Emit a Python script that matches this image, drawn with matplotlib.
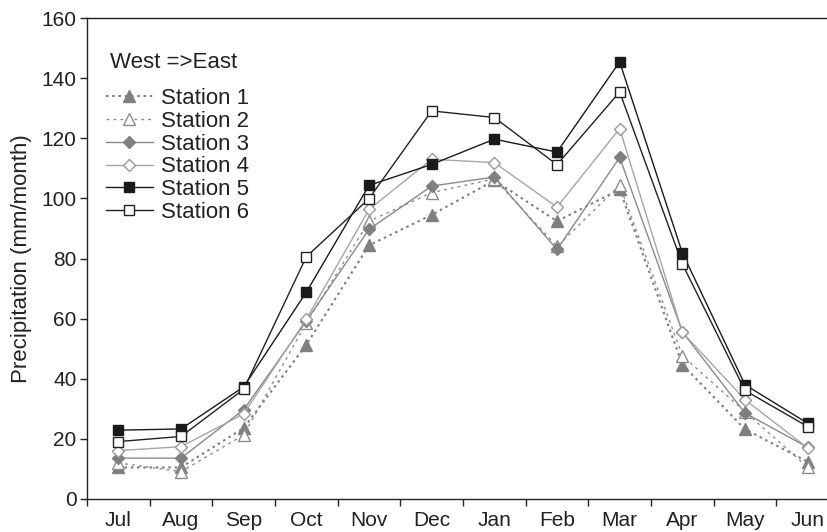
import matplotlib.pyplot as plt
import numpy as np

plt.rcParams['font.family'] = ['Liberation Sans', 'DejaVu Sans']

months = ['Jul', 'Aug', 'Sep', 'Oct', 'Nov', 'Dec', 'Jan', 'Feb', 'Mar', 'Apr', 'May', 'Jun']
station1 = [10.5, 10.5, 23.6, 51.3, 84.4, 94.5, 106.0, 92.4, 103.0, 44.7, 23.2, 12.4]
station2 = [12.0, 9.1, 21.3, 58.6, 92.4, 101.9, 106.5, 84.0, 104.4, 47.7, 29.0, 10.6]
station3 = [13.6, 13.6, 29.7, 59.2, 89.7, 104.1, 107.1, 83.0, 113.6, 55.6, 28.6, 17.2]
station4 = [16.1, 17.4, 28.3, 59.8, 96.3, 113.0, 111.9, 97.1, 123.2, 55.5, 33.0, 17.0]
station5 = [22.9, 23.3, 37.3, 68.8, 104.3, 111.3, 119.7, 115.4, 145.4, 81.9, 38.0, 25.2]
station6 = [19.1, 20.8, 36.5, 80.6, 99.9, 129.1, 126.9, 111.2, 135.4, 78.2, 36.1, 24.1]

W, H = 828, 532
fig = plt.figure(figsize=(W / 100, H / 100), dpi=100)
ax = fig.add_axes([87 / W, 33 / H, 752 / W, 481 / H])

x = np.arange(len(months))

# dotted stations
ax.plot(x, station1, color='#7f7f7f', ls=(0, (1.2, 1.8)), lw=1.5, marker='^', ms=8,
        mfc='#7f7f7f', mec='#7f7f7f', label='Station 1')
ax.plot(x, station2, color='#8c8c8c', ls=(0, (2, 3)), lw=1.0, marker='^', ms=8,
        mfc='white', mec='#8c8c8c', mew=1.0, label='Station 2')
# solid grey stations
ax.plot(x, station3, color='#8a8a8a', lw=1.0, marker='D', ms=6.5,
        mfc='#808080', mec='#808080', label='Station 3')
ax.plot(x, station4, color='#a6a6a6', lw=1.0, marker='D', ms=6,
        mfc='white', mec='#999999', mew=1.0, label='Station 4')
# black stations
ax.plot(x, station5, color='#1a1a1a', lw=1.0, marker='s', ms=7,
        mfc='#1a1a1a', mec='#1a1a1a', label='Station 5')
ax.plot(x, station6, color='#222222', lw=1.0, marker='s', ms=7,
        mfc='white', mec='#222222', mew=1.0, label='Station 6')

ax.set_xlim(-0.5, len(months) - 0.5)
ax.set_ylim(0, 160)
ax.set_yticks(np.arange(0, 161, 20))

# ticks on category boundaries, labels centred on categories
ax.set_xticks(np.arange(-0.5, len(months), 1))
ax.set_xticklabels([])
ax.set_xticks(x, minor=True)
ax.set_xticklabels(months, minor=True)
ax.tick_params(axis='x', which='minor', length=0, pad=8.5, labelsize=15, colors='#222222')
ax.tick_params(axis='x', which='major', length=5, width=1, direction='out', color='#222222')
ax.tick_params(axis='y', length=5, width=1, direction='out', pad=2.5, labelsize=15,
               colors='#222222')

for sp in ax.spines.values():
    sp.set_color('#222222')
    sp.set_linewidth(1.0)

ax.set_ylabel('Precipitation (mm/month)', fontsize=16, color='#222222', labelpad=7)

fig.text(110 / W, 1 - 62 / H, 'West =>East', fontsize=16, color='#222222', va='center')
leg = ax.legend(loc='upper left', bbox_to_anchor=((106 - 87) / 752, (499 - 88) / 481),
                frameon=False, fontsize=16, handlelength=2.1, handletextpad=0.36,
                labelspacing=0.08, borderpad=0, borderaxespad=0)
for t in leg.get_texts():
    t.set_color('#222222')

fig.savefig('out.png', dpi=100)
